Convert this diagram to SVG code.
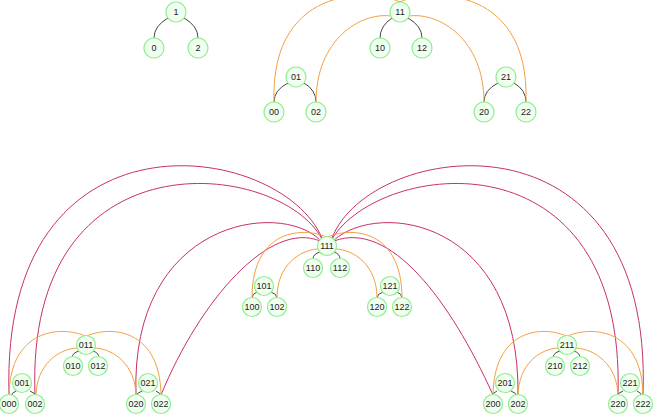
<svg xmlns="http://www.w3.org/2000/svg" width="654" height="416" viewBox="0 0 654 416">
<style>
.n circle{fill:#f0fff0;stroke:#90ee90;stroke-width:1.2}
.n text{font-family:"Liberation Sans",Arial,sans-serif;font-size:9px;fill:#222;text-anchor:middle;dominant-baseline:central}
.k{fill:none;stroke:#444;stroke-width:1}
.o{fill:none;stroke:#f4a040;stroke-width:1}
.r{fill:none;stroke:#c8306a;stroke-width:1}
</style>
<rect width="654" height="416" fill="#fff"/>
<g id="connectors">
<path class="k" d="M168,18 Q154,26 154,38"/><path class="k" d="M184,18 Q198,26 198,38"/>
<path class="k" d="M392,18 Q380,26 380,38"/><path class="k" d="M408,18 Q422,26 422,38"/>
<path class="k" d="M288,83 Q274,90 274,102"/><path class="k" d="M304,83 Q316,90 316,102"/>
<path class="k" d="M498,83 Q484,90 484,102"/><path class="k" d="M514,83 Q526,90 526,102"/>
<path class="o" d="M274,102 C270,-20 380,-12 406,5"/><path class="o" d="M316,102 C316,40 360,12 391,16"/>
<path class="o" d="M526,102 C530,-20 420,-12 394,5"/><path class="o" d="M484,102 C484,40 440,12 409,16"/>
<path class="r" d="M9,395 C0,100 280,140 322,238"/>
<path class="r" d="M35,395 C25,130 280,160 322,239"/>
<path class="r" d="M136,395 C130,220 280,200 320,240"/>
<path class="r" d="M161,395 C200,300 270,220 320,241"/>
<path class="r" d="M643,395 C654,100 370,140 332,238"/>
<path class="r" d="M618,395 C626,130 380,160 332,239"/>
<path class="r" d="M518,395 C520,220 380,200 334,240"/>
<path class="r" d="M493,395 C450,300 390,220 334,241"/>
<g id="sub111">
<path class="k" d="M320,252 Q313,254 313,259"/><path class="k" d="M334,252 Q340,254 340,259"/>
<path class="k" d="M257,292 Q252,294 252,298"/><path class="k" d="M271,292 Q277,294 277,298"/>
<path class="k" d="M383,292 Q377,294 377,298"/><path class="k" d="M397,292 Q402,294 402,298"/>
<path class="o" d="M252,298 C252,225 310,225 334,241"/><path class="o" d="M277,298 C277,265 300,250 318,249"/>
<path class="o" d="M402,298 C402,225 344,225 320,241"/><path class="o" d="M377,298 C377,265 354,250 336,249"/>
</g>
<g transform="translate(-241,99)">
<path class="k" d="M320,252 Q313,254 313,259"/><path class="k" d="M334,252 Q340,254 340,259"/>
<path class="k" d="M257,292 Q252,294 252,298"/><path class="k" d="M271,292 Q277,294 277,298"/>
<path class="k" d="M383,292 Q377,294 377,298"/><path class="k" d="M397,292 Q402,294 402,298"/>
<path class="o" d="M250,298 C250,225 310,225 334,241"/><path class="o" d="M277,298 C277,265 300,250 318,249"/>
<path class="o" d="M402,298 C402,225 344,225 320,241"/><path class="o" d="M377,298 C377,265 354,250 336,249"/>
</g>
<g transform="translate(240,99)">
<path class="k" d="M320,252 Q313,254 313,259"/><path class="k" d="M334,252 Q340,254 340,259"/>
<path class="k" d="M257,292 Q252,294 252,298"/><path class="k" d="M271,292 Q277,294 277,298"/>
<path class="k" d="M383,292 Q377,294 377,298"/><path class="k" d="M397,292 Q402,294 402,298"/>
<path class="o" d="M253,298 C253,225 310,225 334,241"/><path class="o" d="M278,298 C278,265 300,250 318,249"/>
<path class="o" d="M403,298 C403,225 344,225 320,241"/><path class="o" d="M378,298 C378,265 354,250 336,249"/>
</g>
</g>
<g class="n">
<g id="n1"><circle cx="176" cy="12" r="10"/><text x="176" y="12">1</text></g>
<g id="n0"><circle cx="154" cy="48" r="10"/><text x="154" y="48">0</text></g>
<g id="n2"><circle cx="198" cy="48" r="10"/><text x="198" y="48">2</text></g>
<g id="n11"><circle cx="400" cy="12" r="10"/><text x="400" y="12">11</text></g>
<g id="n10"><circle cx="380" cy="48" r="10"/><text x="380" y="48">10</text></g>
<g id="n12"><circle cx="422" cy="48" r="10"/><text x="422" y="48">12</text></g>
<g id="n01"><circle cx="296" cy="77" r="10"/><text x="296" y="77">01</text></g>
<g id="n00"><circle cx="274" cy="112" r="10"/><text x="274" y="112">00</text></g>
<g id="n02"><circle cx="316" cy="112" r="10"/><text x="316" y="112">02</text></g>
<g id="n21"><circle cx="506" cy="77" r="10"/><text x="506" y="77">21</text></g>
<g id="n20"><circle cx="484" cy="112" r="10"/><text x="484" y="112">20</text></g>
<g id="n22"><circle cx="526" cy="112" r="10"/><text x="526" y="112">22</text></g>

<g id="n111"><circle cx="327" cy="246" r="9.5"/><text x="327" y="246">111</text></g>
<g id="n110"><circle cx="313" cy="268" r="9.5"/><text x="313" y="268">110</text></g>
<g id="n112"><circle cx="340" cy="268" r="9.5"/><text x="340" y="268">112</text></g>
<g id="n101"><circle cx="264" cy="286" r="9.5"/><text x="264" y="286">101</text></g>
<g id="n100"><circle cx="252" cy="307" r="9.5"/><text x="252" y="307">100</text></g>
<g id="n102"><circle cx="277" cy="307" r="9.5"/><text x="277" y="307">102</text></g>
<g id="n121"><circle cx="390" cy="286" r="9.5"/><text x="390" y="286">121</text></g>
<g id="n120"><circle cx="377" cy="307" r="9.5"/><text x="377" y="307">120</text></g>
<g id="n122"><circle cx="402" cy="307" r="9.5"/><text x="402" y="307">122</text></g>

<g id="n011"><circle cx="86" cy="345" r="9.5"/><text x="86" y="345">011</text></g>
<g id="n010"><circle cx="73" cy="366" r="9.5"/><text x="73" y="366">010</text></g>
<g id="n012"><circle cx="98" cy="366" r="9.5"/><text x="98" y="366">012</text></g>
<g id="n001"><circle cx="22" cy="383" r="9.5"/><text x="22" y="383">001</text></g>
<g id="n000"><circle cx="9" cy="404" r="9.5"/><text x="9" y="404">000</text></g>
<g id="n002"><circle cx="35" cy="404" r="9.5"/><text x="35" y="404">002</text></g>
<g id="n021"><circle cx="148" cy="383" r="9.5"/><text x="148" y="383">021</text></g>
<g id="n020"><circle cx="136" cy="404" r="9.5"/><text x="136" y="404">020</text></g>
<g id="n022"><circle cx="161" cy="404" r="9.5"/><text x="161" y="404">022</text></g>

<g id="n211"><circle cx="567" cy="345" r="9.5"/><text x="567" y="345">211</text></g>
<g id="n210"><circle cx="555" cy="366" r="9.5"/><text x="555" y="366">210</text></g>
<g id="n212"><circle cx="580" cy="366" r="9.5"/><text x="580" y="366">212</text></g>
<g id="n201"><circle cx="505" cy="383" r="9.5"/><text x="505" y="383">201</text></g>
<g id="n200"><circle cx="493" cy="404" r="9.5"/><text x="493" y="404">200</text></g>
<g id="n202"><circle cx="518" cy="404" r="9.5"/><text x="518" y="404">202</text></g>
<g id="n221"><circle cx="630" cy="383" r="9.5"/><text x="630" y="383">221</text></g>
<g id="n220"><circle cx="618" cy="404" r="9.5"/><text x="618" y="404">220</text></g>
<g id="n222"><circle cx="643" cy="404" r="9.5"/><text x="643" y="404">222</text></g>
</g>
</svg>
